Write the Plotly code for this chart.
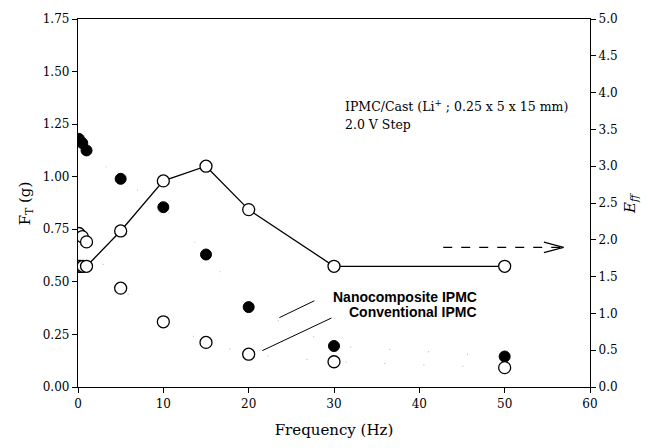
import plotly.graph_objects as go

# ---- data ----
freq = [0.1, 0.5, 1, 5, 10, 15, 20, 30, 50]
ft_nano = [1.18, 1.16, 1.125, 0.99, 0.855, 0.63, 0.38, 0.195, 0.145]
ft_conv = [0.73, 0.715, 0.69, 0.47, 0.31, 0.212, 0.156, 0.12, 0.092]
freq_eff = [0.1, 0.3, 0.6, 1, 5, 10, 15, 20, 30, 50]
eff = [1.64, 1.64, 1.64, 1.64, 2.12, 2.80, 3.00, 2.41, 1.64, 1.64]

x_ticks = [0, 10, 20, 30, 40, 50, 60]
y_ticks = [0, 0.25, 0.5, 0.75, 1.0, 1.25, 1.5, 1.75]
y2_ticks = [0, 0.5, 1.0, 1.5, 2.0, 2.5, 3.0, 3.5, 4.0, 4.5, 5.0]

SERIF = "DejaVu Serif"
SANS = "Liberation Sans"

fig = go.Figure()
# faint sparse dotted connectors (as in the scanned original)
for ys in (ft_nano, ft_conv):
    fig.add_trace(go.Scatter(
        x=freq, y=ys, mode="lines", hoverinfo="skip",
        line=dict(color="#b0b0b0", width=1, dash="1px,38px"),
    ))
fig.add_trace(go.Scatter(
    x=freq, y=ft_nano, mode="markers", name="Nanocomposite IPMC",
    marker=dict(symbol="circle", size=11, color="black", line=dict(color="black", width=1)),
))
fig.add_trace(go.Scatter(
    x=freq, y=ft_conv, mode="markers", name="Conventional IPMC",
    marker=dict(symbol="circle", size=12, color="white", line=dict(color="black", width=1.3)),
))
fig.add_trace(go.Scatter(
    x=freq_eff, y=eff, mode="lines+markers", name="Eff", yaxis="y2",
    line=dict(color="black", width=1.3),
    marker=dict(symbol="circle", size=12, color="white", line=dict(color="black", width=1.3)),
))

shapes = []
# legend pointer lines
lines = [((23.6, 0.33), (27.7, 0.41)), ((21.6, 0.173), (29.7, 0.328))]
for (x0, y0), (x1, y1) in lines:
    shapes.append(dict(type="line", xref="x", yref="y", x0=x0, y0=y0, x1=x1, y1=y1,
                       line=dict(color="black", width=1)))
# dashed arrow toward right axis
arrow_y = 0.664
shapes.append(dict(type="line", xref="x", yref="y", x0=42.8, y0=arrow_y, x1=56.9, y1=arrow_y,
                   line=dict(color="black", width=1.3, dash="dash")))
for dy in (0.025, -0.025):
    shapes.append(dict(type="line", xref="x", yref="y", x0=54.6, y0=arrow_y + dy, x1=56.9, y1=arrow_y,
                       line=dict(color="black", width=1.1)))

annotations = [
    dict(x=31.0, y=1.335, xref="x", yref="y", xanchor="left", yanchor="middle", showarrow=False,
         text="IPMC/Cast (Li<sup>+</sup> ; 0.25 x 5 x 15 mm)", font=dict(family=SERIF, size=12.5, color="black")),
    dict(x=31.0, y=1.25, xref="x", yref="y", xanchor="left", yanchor="middle", showarrow=False,
         text="2.0 V Step", font=dict(family=SERIF, size=12.5, color="black")),
    dict(x=47.0, y=0.43, xref="x", yref="y", xanchor="right", yanchor="middle", showarrow=False,
         text="<b>Nanocomposite IPMC</b>", font=dict(family=SANS, size=14, color="black")),
    dict(x=47.0, y=0.355, xref="x", yref="y", xanchor="right", yanchor="middle", showarrow=False,
         text="<b>Conventional IPMC</b>", font=dict(family=SANS, size=14, color="black")),
    dict(x=-0.103, y=0.5, xref="paper", yref="paper", xanchor="center", yanchor="middle", showarrow=False,
         textangle=-90, text="F<sub>T</sub> (g)", font=dict(family=SERIF, size=15, color="black")),
    dict(x=1.078, y=0.5, xref="paper", yref="paper", xanchor="center", yanchor="middle", showarrow=False,
         textangle=-90, text="<i>E</i><sub><i>ff</i></sub>", font=dict(family=SERIF, size=15, color="black")),
]

axis_common = dict(showline=True, linecolor="black", linewidth=1.3, ticks="outside",
                   ticklen=5, tickcolor="black", showgrid=False, zeroline=False,
                   tickfont=dict(family=SERIF, size=12, color="black"))

fig.update_layout(
    width=648, height=448,
    margin=dict(l=78, r=58, t=13, b=61),
    paper_bgcolor="white", plot_bgcolor="white",
    showlegend=False,
    xaxis=dict(range=[0, 60], tickvals=x_ticks, mirror=True,
               title=dict(text="Frequency (Hz)", font=dict(family=SERIF, size=15, color="black"), standoff=14),
               **axis_common),
    yaxis=dict(range=[0, 1.75], tickvals=y_ticks, tickformat=".2f", **axis_common),
    yaxis2=dict(range=[0, 5], tickvals=y2_ticks, tickformat=".1f", overlaying="y", side="right",
                **axis_common),
    shapes=shapes,
    annotations=annotations,
)

fig.write_html("out.html", config={"displayModeBar": False},
               post_script="document.body.style.margin='0';document.body.style.overflow='hidden';")
